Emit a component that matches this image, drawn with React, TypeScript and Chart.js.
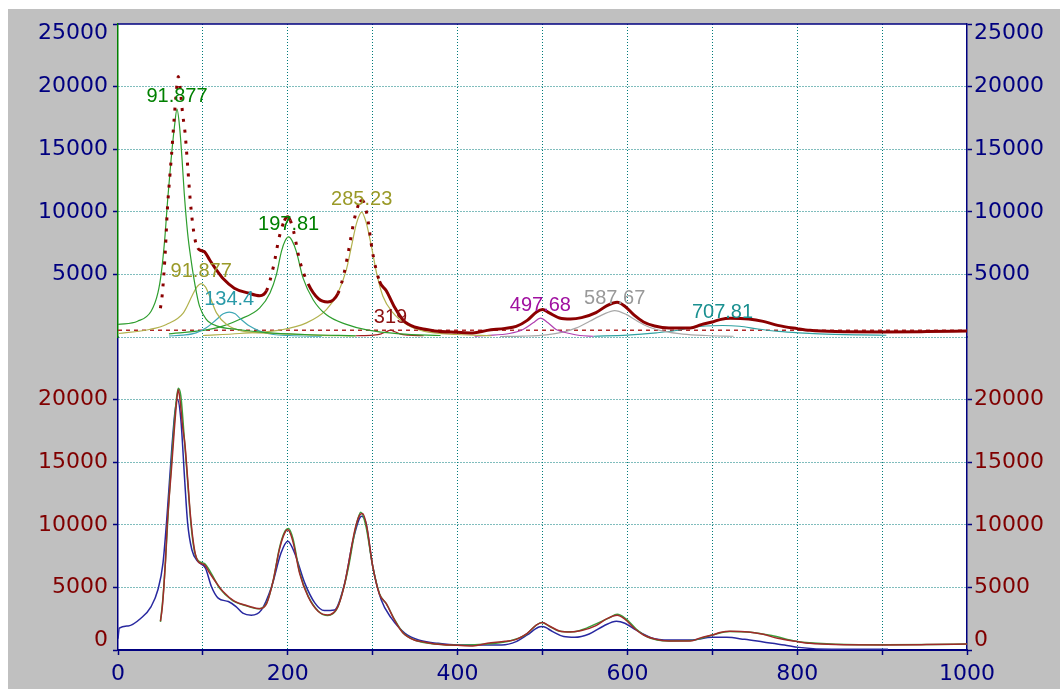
import React, { useEffect, useRef } from "react";
import { Chart, registerables } from "chart.js";

Chart.register(...registerables);

// ---------- data ----------
const measuredX = [50, 52, 54, 56, 58, 61, 63, 66, 69, 71, 73, 76, 79, 82, 85, 88, 91, 94, 98, 102, 108, 116, 124, 137, 153, 167, 175, 183, 190, 196, 200, 203, 207, 214, 224, 236, 247, 259, 266, 271, 279, 285, 288, 293, 300, 308, 316, 326, 336, 349, 358, 373, 400, 418, 435, 456, 469, 482, 493, 500, 508, 520, 533, 546, 563, 576, 588, 597, 608, 619, 632, 649, 674, 687, 700, 709, 721, 743, 760, 777, 800, 815, 845, 900, 952, 1000];
const measuredY = [2300, 3300, 5000, 7200, 10000, 12800, 14500, 17300, 19800, 20800, 20000, 17900, 16300, 13700, 11000, 9000, 7700, 7100, 6900, 6800, 6150, 5350, 4650, 3900, 3520, 3300, 3700, 5600, 8000, 9300, 9600, 9300, 8400, 6100, 4250, 3070, 2800, 3470, 5000, 6680, 9600, 10800, 10900, 9880, 6700, 4450, 3700, 2350, 1340, 800, 670, 480, 370, 320, 530, 690, 850, 1330, 2000, 2190, 1920, 1520, 1440, 1550, 1950, 2510, 2780, 2460, 1740, 1200, 880, 720, 720, 990, 1200, 1390, 1500, 1440, 1250, 930, 670, 530, 430, 400, 430, 480];

const fitX = [50, 53, 56, 60, 64, 68, 71, 74, 78, 82, 86, 90, 95, 102, 110, 120, 135, 150, 165, 175, 183, 190, 196, 201, 206, 214, 224, 236, 247, 258, 266, 272, 280, 286, 292, 300, 308, 316, 326, 336, 350, 375, 400, 430, 460, 480, 492, 499, 508, 520, 535, 550, 565, 578, 588, 598, 610, 622, 635, 650, 675, 700, 720, 745, 770, 800, 840, 900, 960, 1000];
const fitY = [2250, 4200, 7200, 12000, 16000, 19500, 20900, 20300, 17000, 13500, 10000, 7900, 7100, 6900, 6100, 4900, 3950, 3550, 3300, 3750, 5600, 8100, 9400, 9700, 8900, 6200, 4300, 3100, 2750, 3300, 5000, 6800, 9800, 11000, 9900, 6700, 4500, 3700, 2400, 1350, 780, 470, 370, 450, 700, 1200, 1950, 2200, 1900, 1500, 1450, 1700, 2150, 2550, 2850, 2500, 1700, 1100, 800, 720, 750, 1200, 1480, 1420, 1150, 680, 480, 420, 440, 480];

const blueX = [0, 1.5, 12, 27, 39, 47, 53, 58, 63, 67, 70, 74, 78.5, 82, 87, 94, 103, 110, 118, 130, 139, 147, 157, 169, 181, 192, 200, 208, 220, 232, 243, 255, 267, 277, 287, 292, 300, 310, 322, 338, 354, 377, 400, 452, 469, 482, 495, 500, 512, 525, 538, 555, 572, 587, 597, 610, 627, 649, 674, 700, 717, 738, 760, 785, 802, 841, 907];
const blueY = [900, 1740, 1920, 2540, 3470, 4810, 6940, 10950, 15760, 18960, 20030, 18430, 13620, 10150, 8010, 7080, 6540, 5070, 4140, 3870, 3470, 2940, 2780, 3200, 5070, 7750, 8690, 7750, 5340, 3740, 3150, 3200, 5340, 8810, 10680, 10150, 6680, 4010, 2540, 1340, 800, 530, 400, 400, 670, 1200, 1820, 1870, 1470, 1070, 1010, 1280, 1920, 2300, 2140, 1600, 1010, 800, 800, 1010, 1010, 850, 640, 400, 210, 50, 50];

const baselineX = [0, 1000];
const baselineY = [530, 530];

const peak1X = [0, 23, 39, 47, 51, 55, 58.5, 62.5, 66.5, 69.5, 72.5, 75.5, 78, 82, 86, 91, 96, 104, 117, 141, 175, 220, 280];
const peak1Y = [1000, 1260, 2060, 3520, 5120, 7770, 10960, 14150, 16810, 18200, 16810, 14150, 11500, 8300, 6180, 4050, 2460, 1400, 870, 600, 350, 200, 100];
const peak2X = [0, 37, 57, 77, 88, 93, 98, 103, 108, 116, 128, 147, 183, 230, 280];
const peak2Y = [280, 600, 1000, 1930, 3390, 4000, 4270, 4000, 3255, 1930, 1000, 470, 280, 150, 80];
const peak3X = [60, 77, 92, 104, 116, 124, 131, 138, 143, 155, 167, 183, 202, 240];
const peak3Y = [80, 150, 330, 730, 1400, 1850, 1980, 1850, 1530, 870, 470, 200, 120, 60];
const peak4X = [60, 116, 143, 167, 179, 186.5, 192.5, 197, 201, 205, 210, 218, 230, 245.5, 269, 293, 332, 380];
const peak4Y = [250, 730, 1400, 2330, 3520, 4960, 6840, 7700, 7990, 7700, 6840, 4700, 2960, 1770, 1010, 570, 250, 120];
const peak5X = [100, 143, 190.5, 222, 245.5, 259, 269, 275, 281, 287, 292.5, 298.5, 304.5, 312, 324, 340, 360, 400, 440];
const peak5Y = [120, 280, 550, 1130, 2190, 3520, 5380, 7240, 9100, 9980, 9100, 7240, 5120, 3260, 1930, 1000, 470, 200, 100];
const peak6X = [280, 300, 310, 316, 321, 326, 332, 342, 360];
const peak6Y = [100, 150, 250, 420, 550, 420, 250, 150, 100];
const peak7X = [420, 434, 461, 477, 489, 497.5, 506.5, 516, 532, 544, 560];
const peak7Y = [60, 120, 280, 600, 1130, 1500, 1130, 600, 280, 120, 60];
const peak8X = [450, 476, 504.6, 524, 540, 555.6, 571, 585, 599, 610.6, 626, 642, 665.5, 693, 725];
const peak8Y = [40, 70, 170, 390, 730, 1260, 1790, 2110, 1790, 1310, 780, 470, 230, 120, 60];
const peak9X = [560, 600, 634, 662, 675, 692, 712, 732, 754, 778, 802, 826, 874, 905];
const peak9Y = [60, 150, 333, 560, 760, 880, 920, 860, 640, 450, 330, 250, 170, 140];

const peakLabels = ["91.877", "91.877", "134.4", "197.81", "285.23", "319", "497.68", "587.67", "707.81"];

const xTickLabels = ["0", "200", "400", "600", "800", "1000"];
const yTopTickLabels = ["5000", "10000", "15000", "20000", "25000"];
const yBotTickLabels = ["0", "5000", "10000", "15000", "20000"];

// ---------- styles ----------
const peakXs = [peak1X, peak2X, peak3X, peak4X, peak5X, peak6X, peak7X, peak8X, peak9X];
const peakYs = [peak1Y, peak2Y, peak3Y, peak4Y, peak5Y, peak6Y, peak7Y, peak8Y, peak9Y];
const peakLineColors = ["#2e9e2e", "#b2b24e", "#3fa8b6", "#2e9e2e", "#b2b24e", "#a02020", "#b040b0", "#a8a8a8", "#2fa0a0"];
const peakTextColors = ["#008000", "#9a9a28", "#2a9aa8", "#008000", "#9a9a28", "#8b1010", "#a010a0", "#999999", "#1a9090"];

const NAVY = "#000080";
const DARKRED = "#800000";
const GRID = "#007a7a";
const CLEAR = "rgba(0,0,0,0)";
const FAMILY = "'DejaVu Sans', sans-serif";

function pts(xs: number[], ys: number[]) {
  return xs.map((x, i) => ({ x, y: ys[i] }));
}

const framePlugin = {
  id: "frame",
  beforeDraw(chart: any) {
    const { ctx, chartArea: a } = chart;
    ctx.save();
    ctx.fillStyle = "#ffffff";
    ctx.fillRect(a.left, a.top, a.right - a.left, a.bottom - a.top);
    ctx.restore();
  },
  afterDraw(chart: any) {
    const { ctx, chartArea: a } = chart;
    ctx.save();
    ctx.strokeStyle = NAVY;
    ctx.lineWidth = 1.5;
    ctx.beginPath();
    ctx.moveTo(a.left, a.top);
    ctx.lineTo(a.right, a.top);
    ctx.stroke();
    ctx.restore();
  },
};

const peakLabelPlugin = {
  id: "peakLabels",
  afterDatasetsDraw(chart: any) {
    const { ctx, scales } = chart;
    const xs = scales.x;
    const ys = scales.yTop;
    ctx.save();
    ctx.font = "20px 'Liberation Sans', Arial, sans-serif";
    ctx.textAlign = "center";
    ctx.textBaseline = "alphabetic";
    peakXs.forEach((xArr, i) => {
      const yArr = peakYs[i];
      let k = 0;
      yArr.forEach((v, j) => {
        if (v > yArr[k]) k = j;
      });
      const px = xs.getPixelForValue(xArr[k]);
      const py = ys.getPixelForValue(yArr[k]);
      ctx.fillStyle = peakTextColors[i];
      ctx.fillText(peakLabels[i], px, py - 7);
    });
    ctx.restore();
  },
};

function yAxis(opts: {
  position: "left" | "right";
  stack: string;
  labels: string[];
  color: string;
  borderColor: string;
  panel: "top" | "bottom";
  width: number;
  padding: number;
  drawOnChartArea: boolean;
}) {
  const atSeam = (v: number) => (opts.panel === "top" ? v === 0 : v === 25000);
  return {
    type: "linear",
    position: opts.position,
    stack: opts.stack,
    min: 0,
    max: 25000,
    afterFit: (s: any) => {
      s.width = opts.width;
      s.paddingTop = 0;
      s.paddingBottom = 0;
    },
    ticks: {
      stepSize: 5000,
      autoSkip: false,
      color: opts.color,
      padding: opts.padding,
      font: { family: FAMILY, size: 22, lineHeight: 0.86 },
      callback: (v: any) => {
        const s = String(v);
        if (!opts.labels.includes(s)) return "";
        if (opts.panel === "top" && v === 25000) return ["", s];
        if (opts.panel === "bottom" && v === 0) return [s, ""];
        return s;
      },
    },
    grid: {
      drawOnChartArea: opts.drawOnChartArea,
      color: (c: any) => {
        const v = c.tick ? c.tick.value : -1;
        if (opts.panel === "top" && v === 25000) return CLEAR;
        if (opts.panel === "bottom" && (v === 0 || v === 25000)) return CLEAR;
        return GRID;
      },
      lineWidth: 1,
      tickLength: 5,
      tickColor: (c: any) => (c.tick && atSeam(c.tick.value) ? CLEAR : NAVY),
      tickWidth: 1.5,
    },
    border: { color: opts.borderColor, width: 1.5, dash: [1, 2] },
  };
}

export default function App() {
  const ref = useRef<HTMLCanvasElement>(null);

  useEffect(() => {
    if (!ref.current) return;

    const line = (data: any, yAxisID: string, color: string, width: number, extra: any = {}) => ({
      data,
      yAxisID,
      borderColor: color,
      backgroundColor: color,
      borderWidth: width,
      pointRadius: 0,
      fill: false,
      cubicInterpolationMode: "monotone",
      ...extra,
    });

    const datasets: any[] = [
      line(pts(measuredX, measuredY), "yTop", "#8b0000", 3, {
        label: "measured (top)",
        segment: {
          borderDash: (c: any) => {
            const dx = Math.abs(c.p1.x - c.p0.x);
            const dy = Math.abs(c.p1.y - c.p0.y);
            return dy > 2.5 * dx ? [3, 8] : undefined;
          },
        },
      }),
      ...peakXs.map((xs, i) =>
        line(pts(xs, peakYs[i]), "yTop", peakLineColors[i], 1.2, { label: "peak " + peakLabels[i] })
      ),
      line(pts(baselineX, baselineY), "yTop", "#b02828", 1.5, { label: "baseline", borderDash: [4, 4] }),
      line(pts(measuredX, measuredY), "yBot", "#a02a2a", 1.5, { label: "measured" }),
      line(pts(fitX, fitY), "yBot", "#3aa03a", 1.5, { label: "fit" }),
      line(pts(blueX, blueY), "yBot", "#2828a0", 1.5, { label: "model" }),
    ];

    const chart = new Chart(ref.current, {
      type: "line",
      data: { datasets },
      plugins: [framePlugin, peakLabelPlugin],
      options: {
        animation: false,
        responsive: false,
        devicePixelRatio: 1,
        layout: { padding: { top: 15, left: 0, right: 0, bottom: 0 } },
        plugins: { legend: { display: false }, tooltip: { enabled: false } },
        scales: {
          x: {
            type: "linear",
            position: "bottom",
            min: 0,
            max: 1000,
            afterFit: (s: any) => {
              s.height = 39;
              s.paddingLeft = 0;
              s.paddingRight = 0;
            },
            ticks: {
              stepSize: 100,
              autoSkip: false,
              maxRotation: 0,
              color: NAVY,
              padding: 6,
              font: { family: FAMILY, size: 22 },
              callback: (v: any) => (xTickLabels.includes(String(v)) ? String(v) : ""),
            },
            grid: {
              color: (c: any) => (c.tick && (c.tick.value === 0 || c.tick.value === 1000) ? CLEAR : GRID),
              lineWidth: 1,
              tickLength: 5,
              tickColor: NAVY,
              tickWidth: 1.5,
            },
            border: { color: NAVY, width: 2, dash: [1, 2] },
          },
          yBot: yAxis({ position: "left", stack: "left", labels: yBotTickLabels, color: DARKRED, borderColor: NAVY, panel: "bottom", width: 110, padding: 5, drawOnChartArea: true }),
          yTop: yAxis({ position: "left", stack: "left", labels: yTopTickLabels, color: NAVY, borderColor: "#008000", panel: "top", width: 110, padding: 5, drawOnChartArea: true }),
          yTopR: yAxis({ position: "right", stack: "right", labels: yTopTickLabels, color: NAVY, borderColor: NAVY, panel: "top", width: 93, padding: 2, drawOnChartArea: false }),
          yBotR: yAxis({ position: "right", stack: "right", labels: yBotTickLabels, color: DARKRED, borderColor: NAVY, panel: "bottom", width: 93, padding: 2, drawOnChartArea: false }),
        } as any,
      },
    } as any);

    return () => chart.destroy();
  }, []);

  return (
    <div style={{ position: "absolute", left: 8, top: 9, width: 1052, height: 680, background: "#c0c0c0" }}>
      <canvas ref={ref} width={1052} height={680} style={{ display: "block", width: 1052, height: 680 }} />
    </div>
  );
}
